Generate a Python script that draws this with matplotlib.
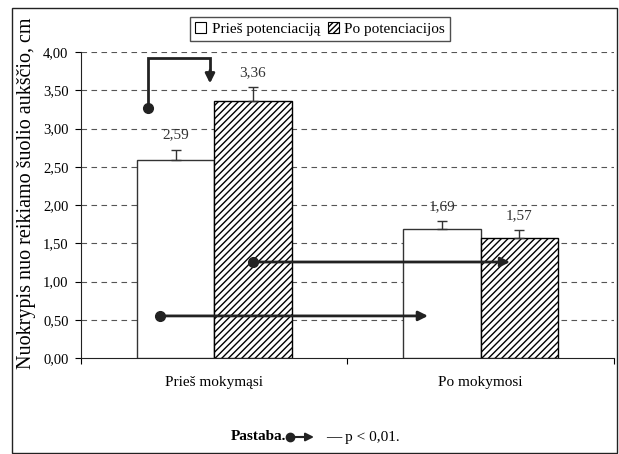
import numpy as np
import matplotlib
matplotlib.use('Agg')
import matplotlib.pyplot as plt
from matplotlib.patches import Rectangle, Patch
from matplotlib.lines import Line2D

plt.rcParams['font.family'] = ['Liberation Serif', 'DejaVu Serif']
plt.rcParams['hatch.linewidth'] = 1.0

# duomenys
categories = ['Prieš mokymąsi', 'Po mokymosi']
series_names = ['Prieš potenciaciją', 'Po potenciacijos']
before = [2.59, 1.69]
after = [3.36, 1.57]
before_err = [0.13, 0.10]
after_err = [0.18, 0.10]
yticks = [0.0, 0.5, 1.0, 1.5, 2.0, 2.5, 3.0, 3.5, 4.0]

fig = plt.figure(figsize=(6.19, 4.54), dpi=100)
ax = fig.add_axes([81/619, 1-358/454, 533/619, 306/454])

# remelis aplink visa paveiksla
fig.patches.append(Rectangle((12/619, 0.002), 605/619, 1-8/454-0.002, transform=fig.transFigure,
                             fill=False, edgecolor='#222222', lw=1.0))

x = np.arange(len(categories))
w = 0.29
edge = '#333333'
ax.bar(x - w/2, before, w, color='white', edgecolor=edge, lw=1.0, zorder=3)
ax.bar(x + w/2, after, w, color='white', edgecolor='black', hatch='/////', lw=1.0, zorder=3)

# tik virsutines paklaidos
ax.errorbar(x - w/2, before, yerr=[np.zeros(2), before_err], fmt='none', ecolor=edge,
            elinewidth=1, capsize=3.5, zorder=4)
ax.errorbar(x + w/2, after, yerr=[np.zeros(2), after_err], fmt='none', ecolor=edge,
            elinewidth=1, capsize=3.5, zorder=4)

for xs, vals, errs in [(x - w/2, before, before_err), (x + w/2, after, after_err)]:
    for xi, v, e in zip(xs, vals, errs):
        ax.annotate(f'{v:.2f}'.replace('.', ','), (xi, v + e), xytext=(0, 6),
                    textcoords='offset points', ha='center', va='bottom', fontsize=11, color='#333333')

ax.set_xlim(-0.5, 1.5)
ax.set_ylim(0, 4)
ax.set_yticks(yticks)
ax.set_yticklabels([f'{t:.2f}'.replace('.', ',') for t in yticks], fontsize=10.5)
for t in yticks[1:]:
    ax.axhline(t, color='#555555', lw=0.8, ls=(0, (5, 4)), zorder=1)

ax.set_xticks([-0.5, 0.5, 1.5])
ax.set_xticklabels([])
ax.set_xticks(x, minor=True)
ax.set_xticklabels(categories, minor=True, fontsize=11)
ax.tick_params(axis='x', which='minor', length=0, pad=13)
ax.tick_params(axis='x', which='major', length=4, direction='out')
ax.tick_params(axis='y', length=4, direction='out', pad=5)
for s in ['top', 'right']:
    ax.spines[s].set_visible(False)
ax.spines['left'].set_color('#222222')
ax.spines['bottom'].set_color('#222222')

ax.set_ylabel('Nuokrypis nuo reikiamo šuolio aukščio, cm', fontsize=14.5)
ax.yaxis.set_label_coords(-0.085, 0.54)

# reiksmingumo rodykles
ac = '#222222'
arrow = dict(arrowstyle='-|>', color=ac, lw=2, mutation_scale=14, shrinkA=0, shrinkB=0)
# 1: prieš mokymąsi, prieš -> po potenciacijos
ax.plot([-0.249, -0.249, -0.016, -0.016], [3.27, 3.92, 3.92, 3.75], color=ac, lw=2, zorder=5,
        solid_joinstyle='miter')
ax.annotate('', xy=(-0.016, 3.59), xytext=(-0.016, 3.76), arrowprops=arrow, zorder=5)
ax.plot([-0.249], [3.27], 'o', color=ac, ms=7, zorder=6)
# 2: po potenciacijos, prieš -> po mokymosi
ax.annotate('', xy=(1.11, 1.255), xytext=(0.145, 1.255), arrowprops=arrow, zorder=5)
ax.plot([0.145], [1.255], 'o', color=ac, ms=7, zorder=6)
# 3: prieš potenciaciją, prieš -> po mokymosi
ax.annotate('', xy=(0.802, 0.55), xytext=(-0.204, 0.55), arrowprops=arrow, zorder=5)
ax.plot([-0.204], [0.55], 'o', color=ac, ms=7, zorder=6)

# legenda
handles = [Patch(facecolor='white', edgecolor='black', lw=0.8),
           Patch(facecolor='white', edgecolor='black', hatch='//////', lw=0.8)]
leg = fig.legend(handles, series_names, loc='center', bbox_to_anchor=(320/619, 1-29/454), ncol=2,
                 fontsize=11, frameon=True, fancybox=False, edgecolor='#222222',
                 handlelength=0.75, handleheight=0.75, handletextpad=0.35, columnspacing=0.5,
                 borderpad=0.3, borderaxespad=0)
leg.get_frame().set_linewidth(1.0)

# pastaba
fy = 1 - 437/454
fig.text(286/619, fy, 'Pastaba.', ha='right', va='center', fontsize=11, fontweight='bold')
fig.add_artist(Line2D([290/619, 302/619], [fy]*2, color=ac, lw=1.5, transform=fig.transFigure))
fig.add_artist(Line2D([290/619], [fy], marker='o', ms=6, color=ac, transform=fig.transFigure))
ax.annotate('', xy=(314/619, fy), xytext=(300/619, fy), xycoords='figure fraction',
            arrowprops=dict(arrowstyle='-|>', color=ac, lw=1.5, mutation_scale=12, shrinkA=0, shrinkB=0))
fig.text(326/619, fy, '— p < 0,01.', ha='left', va='center', fontsize=11)

fig.savefig('out.png', dpi=100)
